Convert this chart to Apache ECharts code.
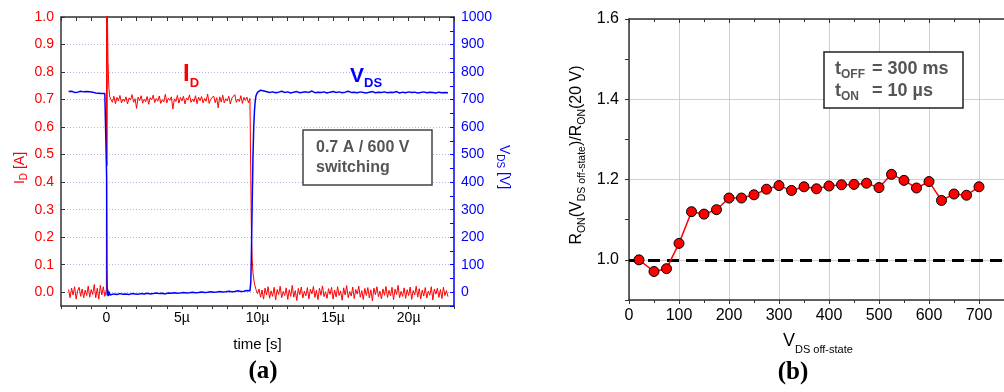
<!DOCTYPE html>
<html><head><meta charset="utf-8">
<script src="https://cdn.jsdelivr.net/npm/echarts@6/dist/echarts.min.js"></script>
<style>html,body{margin:0;padding:0;background:#fff}#c{width:1004px;height:392px}</style>
</head><body><div id="c"></div>
<script>
// ---------- DATA: panel (a) drain current I_D [A] ----------
const ID_DT = 0.1;            // sample step, µs
const ID_PRE_T0 = -2.5;
const idPre = [0.010,-0.020,0.015,-0.010,0.020,-0.025,0.005,0.018,-0.015,0.012,-0.020,0.008,-0.012,0.022,-0.018,0.010,-0.008,0.028,-0.020,0.015,-0.025,0.025,-0.010,0.020,-0.015];
const idTurnOn = [[0,0.01],[0.02,1.05],[0.04,0.46],[0.07,1.02],[0.11,0.84],[0.16,0.75],[0.22,0.71]];
const ID_ON_T0 = 0.3;
const idOn = [0.705,0.690,0.712,0.685,0.708,0.695,0.715,0.688,0.702,0.693,
  0.710,0.684,0.706,0.698,0.718,0.690,0.703,0.668,0.709,0.696,
  0.714,0.687,0.701,0.692,0.711,0.683,0.707,0.699,0.716,0.689,
  0.704,0.694,0.713,0.686,0.700,0.691,0.719,0.688,0.705,0.697,
  0.710,0.666,0.703,0.693,0.715,0.687,0.708,0.695,0.712,0.684,
  0.706,0.698,0.717,0.690,0.702,0.692,0.714,0.685,0.709,0.696,
  0.711,0.688,0.704,0.694,0.720,0.686,0.701,0.697,0.713,0.689,
  0.707,0.670,0.710,0.691,0.716,0.688,0.703,0.695,0.712,0.684,
  0.705,0.699,0.718,0.690,0.702,0.693,0.714,0.686,0.708,0.697,
  0.709,0.688,0.704];
const idTurnOff = [[9.55,0.70],[9.6,0.20],[9.65,0.12],[9.7,0.07],[9.8,0.03],[9.9,0.01],[10.0,-0.005]];
const ID_OFF_T0 = 10.1;
const idOff = [0.012,-0.018,0.008,-0.025,0.015,-0.010,0.020,-0.022,0.005,-0.015,
  0.018,-0.028,0.010,-0.008,0.022,-0.020,0.003,-0.012,0.016,-0.026,
  0.009,-0.015,0.025,-0.018,0.006,-0.030,0.014,-0.009,0.019,-0.021,
  0.004,-0.013,0.017,-0.024,0.011,-0.006,0.021,-0.019,0.007,-0.027,
  0.015,-0.011,0.023,-0.016,0.002,-0.022,0.013,-0.008,0.018,-0.025,
  0.008,-0.017,0.020,-0.012,0.005,-0.029,0.016,-0.010,0.024,-0.020,
  0.003,-0.014,0.019,-0.023,0.010,-0.007,0.022,-0.018,0.006,-0.026,
  0.014,-0.012,0.017,-0.021,0.009,-0.031,0.015,-0.009,0.020,-0.016,
  0.004,-0.024,0.012,-0.011,0.021,-0.019,0.007,-0.013,0.018,-0.027,
  0.011,-0.008,0.025,-0.020,0.003,-0.015,0.016,-0.022,0.009,-0.012,
  0.019,-0.026,0.006,-0.010,0.022,-0.018,0.013,-0.024,0.008,-0.014,
  0.017,-0.021,0.004,-0.011,0.020,-0.028,0.012,-0.007,0.015,-0.019,
  0.010,-0.023,0.018,-0.012,0.006,-0.016];

// ---------- DATA: panel (a) drain-source voltage V_DS [V] ----------
const V_PRE_T0 = -2.5, V_PRE_DT = 0.1;
const vPre = [729,727,730,728,726,729,727,728,730,726,728,727,729,726,728,725,727,726,724,726,723,725,722,724,722];
const vTurnOn = [[0,721],[0.02,420],[0.04,80],[0.06,-12],[0.09,10],[0.13,-14],[0.18,2],[0.24,-10]];
const V_ON_T0 = 0.3, V_DT = 0.2;
const vOn = [-9,-6,-8,-5,-7,-6,-8,-5,-6,-7,-5,-6,-4,-6,-5,-3,-5,-4,-6,-3,-4,-2,-4,-3,-1,-3,-2,0,-2,-1,1,-1,0,2,0,1,3,1,2,4,2,3,5,3,4,6,5];
const vTurnOff = [[9.52,8],[9.56,40],[9.6,150],[9.65,330],[9.7,490],[9.75,600],[9.8,660],[9.85,695],[9.9,714],[10.0,726],[10.1,731],[10.2,734],[10.35,732],[10.5,730]];
const V_OFF_T0 = 10.6;
const vOff = [729,726,728,725,727,730,726,728,724,727,729,725,727,728,726,731,725,727,726,728,
  724,727,729,726,728,725,727,730,726,727,725,728,726,724,727,729,725,727,726,728,
  725,727,726,729,724,727,725,728,726,727,724,726,728,725,727,726,724,727,725,726,725];

const timeLabelTicks = [0, 5, 10, 15, 20];

// ---------- DATA: panel (b) ----------
const vOffState = [20,50,75,100,125,150,175,200,225,250,275,300,325,350,375,400,425,450,475,500,525,550,575,600,625,650,675,700];
const ronRatio = [1.000,0.971,0.978,1.041,1.120,1.114,1.125,1.154,1.154,1.162,1.176,1.185,1.173,1.182,1.177,1.184,1.187,1.188,1.191,1.180,1.213,1.198,1.179,1.195,1.148,1.164,1.161,1.182];
const REF_RATIO = 1.0;

// ---------- build ----------
const FONT = "'Liberation Sans', Arial, Helvetica, sans-serif";
function sampled(t0, dt, vals) { return vals.map((v, i) => [Math.round((t0 + i * dt) * 1000) / 1000, v]); }
const idData = [].concat(sampled(ID_PRE_T0, ID_DT, idPre), idTurnOn, sampled(ID_ON_T0, ID_DT, idOn), idTurnOff, sampled(ID_OFF_T0, ID_DT, idOff));
const vdsData = [].concat(sampled(V_PRE_T0, V_PRE_DT, vPre), vTurnOn, sampled(V_ON_T0, V_DT, vOn), vTurnOff, sampled(V_OFF_T0, V_DT, vOff));
const ronData = vOffState.map((x, i) => [x, ronRatio[i]]);

const RED = '#ff0000', BLUE = '#0000ff', AX = '#333';

function tok(size, color, bold, lh, va) {
  return { fontSize: size, fontFamily: FONT, fontWeight: bold ? 'bold' : 'normal', fill: color, lineHeight: lh, verticalAlign: va };
}

const chart = echarts.init(document.getElementById('c'), null, { renderer: 'canvas' });
chart.setOption({
  animation: false,
  backgroundColor: '#fff',
  grid: [
    { left: 61, top: 17, width: 393, height: 289 },
    { left: 629, top: 19, width: 394, height: 281 }
  ],
  xAxis: [
    { gridIndex: 0, type: 'value', min: -3, max: 23, interval: 1, position: 'bottom',
      axisLine: { onZero: false, lineStyle: { color: AX, width: 1.5 } },
      axisTick: { inside: false, length: 3, lineStyle: { color: AX } },
      axisLabel: { margin: 5, color: '#000', fontSize: 14, fontFamily: FONT,
        formatter: v => timeLabelTicks.indexOf(v) >= 0 ? (v === 0 ? '0' : v + 'µ') : '' },
      splitLine: { show: false } },
    { gridIndex: 0, type: 'value', min: -3, max: 23, interval: 1, position: 'top',
      axisLine: { onZero: false, lineStyle: { color: AX, width: 1.5 } },
      axisTick: { inside: true, length: 4, lineStyle: { color: AX } },
      axisLabel: { show: false }, splitLine: { show: false } },
    { gridIndex: 1, type: 'value', min: 0, max: 750, interval: 100, position: 'bottom',
      axisLine: { onZero: false, lineStyle: { color: AX, width: 1.5 } },
      axisTick: { inside: false, length: 4, lineStyle: { color: AX } },
      minorTick: { show: true, splitNumber: 2, length: 3, lineStyle: { color: AX } },
      axisLabel: { margin: 8, color: '#000', fontSize: 16, fontFamily: FONT },
      splitLine: { show: true, lineStyle: { color: '#d0d0d0', width: 1 } } },
    { gridIndex: 1, type: 'value', min: 0, max: 750, interval: 100, position: 'top',
      axisLine: { onZero: false, lineStyle: { color: AX, width: 1.5 } },
      axisTick: { inside: true, length: 4, lineStyle: { color: AX } },
      minorTick: { show: true, splitNumber: 2, length: 3, lineStyle: { color: AX } },
      axisLabel: { show: false }, splitLine: { show: false } }
  ],
  yAxis: [
    { gridIndex: 0, type: 'value', min: -0.05, max: 1.0, splitNumber: 10, position: 'left',
      axisLine: { show: true, onZero: false, lineStyle: { color: AX, width: 1.5 } },
      axisTick: { show: true, inside: true, length: 4, lineStyle: { color: AX } },
      axisLabel: { showMinLabel: false, margin: 7, color: RED, fontSize: 14, fontFamily: FONT, formatter: v => v.toFixed(1) },
      splitLine: { show: true, lineStyle: { color: '#b4b4ea', width: 1, type: [1, 2] } } },
    { gridIndex: 0, type: 'value', min: -50, max: 1000, splitNumber: 10, position: 'right',
      axisLine: { show: true, onZero: false, lineStyle: { color: BLUE, width: 1.5 } },
      axisTick: { show: true, inside: true, length: 4, lineStyle: { color: BLUE } },
      minorTick: { show: true, splitNumber: 2, length: 4, lineStyle: { color: BLUE } },
      axisLabel: { showMinLabel: false, margin: 7, color: BLUE, fontSize: 14, fontFamily: FONT, formatter: v => String(v) },
      splitLine: { show: false } },
    { gridIndex: 1, type: 'value', min: 0.9, max: 1.6, splitNumber: 4, position: 'left',
      axisLine: { show: true, onZero: false, lineStyle: { color: AX, width: 1.5 } },
      axisTick: { show: true, inside: false, length: 4, lineStyle: { color: AX } },
      minorTick: { show: true, splitNumber: 2, length: 4, lineStyle: { color: AX } },
      axisLabel: { showMinLabel: false, margin: 10, color: '#000', fontSize: 16, fontFamily: FONT, formatter: v => v.toFixed(1) },
      splitLine: { show: true, lineStyle: { color: '#d0d0d0', width: 1 } } }
  ],
  series: [
    { name: 'ID', type: 'line', xAxisIndex: 0, yAxisIndex: 0, data: idData, showSymbol: false, symbol: 'none',
      lineStyle: { color: RED, width: 1 }, z: 2 },
    { name: 'VDS', type: 'line', xAxisIndex: 0, yAxisIndex: 1, data: vdsData, showSymbol: false, symbol: 'none',
      lineStyle: { color: BLUE, width: 1.5 }, z: 3 },
    { name: 'ref', type: 'line', xAxisIndex: 2, yAxisIndex: 2, data: [], z: 1,
      markLine: { silent: true, symbol: 'none', z: 1, label: { show: false },
        lineStyle: { color: '#000', width: 3, type: [12, 7] }, data: [{ yAxis: REF_RATIO }] } },
    { name: 'Ron', type: 'line', xAxisIndex: 2, yAxisIndex: 2, data: ronData, z: 4,
      symbol: 'circle', symbolSize: 10, showSymbol: true,
      itemStyle: { color: RED, borderColor: '#000', borderWidth: 1 },
      lineStyle: { color: RED, width: 1.5 } }
  ],
  graphic: [
    // panel (a) annotations
    { type: 'text', x: 183, y: 74, z: 100, style: { text: '{m|I}{s|D}', align: 'left', verticalAlign: 'middle',
      rich: { m: tok(24, RED, true, 32, 'middle'), s: tok(13, RED, true, 13, 'bottom') } } },
    { type: 'text', x: 350, y: 76, z: 100, style: { text: '{m|V}{s|DS}', align: 'left', verticalAlign: 'middle',
      rich: { m: tok(21, BLUE, true, 28, 'middle'), s: tok(13, BLUE, true, 13, 'bottom') } } },
    { type: 'rect', z: 100, shape: { x: 303, y: 130, width: 129, height: 55 }, style: { fill: '#fff', stroke: '#444', lineWidth: 1.5 } },
    { type: 'text', x: 316, y: 148, z: 101, style: { text: '0.7 A / 600 V', font: 'bold 16px ' + FONT, fill: '#555', align: 'left', verticalAlign: 'middle' } },
    { type: 'text', x: 316, y: 168, z: 101, style: { text: 'switching', font: 'bold 16px ' + FONT, fill: '#555', align: 'left', verticalAlign: 'middle' } },
    { type: 'text', x: 20, y: 168, rotation: Math.PI / 2, z: 100, style: { text: '{m|I}{s|D}{m| [A]}', align: 'center', verticalAlign: 'middle',
      rich: { m: tok(14, RED, false, 18, 'middle'), s: tok(10, RED, false, 10, 'bottom') } } },
    { type: 'text', x: 504, y: 167, rotation: -Math.PI / 2, z: 100, style: { text: '{m|V}{s|DS}{m| [V]}', align: 'center', verticalAlign: 'middle',
      rich: { m: tok(14, BLUE, false, 18, 'middle'), s: tok(10, BLUE, false, 10, 'bottom') } } },
    { type: 'text', x: 257.5, y: 345, z: 100, style: { text: 'time [s]', font: '15px ' + FONT, fill: '#000', align: 'center', verticalAlign: 'middle' } },
    { type: 'text', x: 263, y: 372, z: 100, style: { text: '(a)', font: 'bold 25px "Liberation Serif", "DejaVu Serif", serif', fill: '#000', align: 'center', verticalAlign: 'middle' } },
    // panel (b) annotations
    { type: 'rect', z: 100, shape: { x: 824, y: 52, width: 139, height: 56 }, style: { fill: '#fff', stroke: '#222', lineWidth: 1.5 } },
    { type: 'text', x: 835, y: 69, z: 101, style: { text: '{m|t}{s|OFF}', align: 'left', verticalAlign: 'middle',
      rich: { m: tok(18, '#555', true, 24, 'middle'), s: tok(12, '#555', true, 12, 'bottom') } } },
    { type: 'text', x: 872, y: 69, z: 101, style: { text: '= 300 ms', font: 'bold 18px ' + FONT, fill: '#555', align: 'left', verticalAlign: 'middle' } },
    { type: 'text', x: 835, y: 91, z: 101, style: { text: '{m|t}{s|ON}', align: 'left', verticalAlign: 'middle',
      rich: { m: tok(18, '#555', true, 24, 'middle'), s: tok(12, '#555', true, 12, 'bottom') } } },
    { type: 'text', x: 872, y: 91, z: 101, style: { text: '= 10 µs', font: 'bold 18px ' + FONT, fill: '#555', align: 'left', verticalAlign: 'middle' } },
    { type: 'text', x: 577, y: 155, rotation: Math.PI / 2, z: 100, style: { text: '{m|R}{s|ON}{m|(V}{s|DS off-state}{m|)/R}{s|ON}{m|(20 V)}', align: 'center', verticalAlign: 'middle',
      rich: { m: tok(16, '#000', false, 22, 'middle'), s: tok(10.5, '#000', false, 10.5, 'bottom') } } },
    { type: 'text', x: 783, y: 341, z: 100, style: { text: '{m|V}{s|DS off-state}', align: 'left', verticalAlign: 'middle',
      rich: { m: tok(18, '#000', false, 28, 'middle'), s: tok(11, '#000', false, 11, 'bottom') } } },
    { type: 'text', x: 793, y: 373, z: 100, style: { text: '(b)', font: 'bold 25px "Liberation Serif", "DejaVu Serif", serif', fill: '#000', align: 'center', verticalAlign: 'middle' } }
  ]
});
</script>
</body></html>
